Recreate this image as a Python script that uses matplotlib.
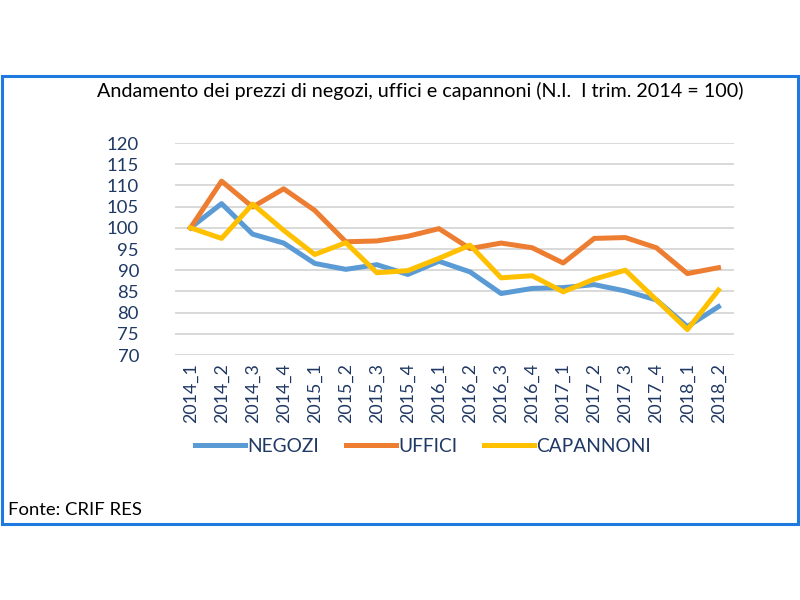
import matplotlib.pyplot as plt
from matplotlib.patches import Rectangle

periods = ["2014_1", "2014_2", "2014_3", "2014_4", "2015_1", "2015_2", "2015_3", "2015_4",
           "2016_1", "2016_2", "2016_3", "2016_4", "2017_1", "2017_2", "2017_3", "2017_4",
           "2018_1", "2018_2"]
negozi = [100, 105.7, 98.5, 96.4, 91.6, 90.2, 91.3, 89.0,
          92.1, 89.6, 84.5, 85.7, 85.9, 86.6, 85.1, 83.0, 76.7, 81.4]
uffici = [100, 111.0, 104.9, 109.2, 104.1, 96.7, 96.9, 98.0,
          99.8, 95.1, 96.4, 95.3, 91.7, 97.5, 97.7, 95.3, 89.2, 90.6]
capannoni = [100, 97.5, 105.6, 99.4, 93.7, 96.5, 89.4, 89.9,
             92.8, 95.9, 88.2, 88.7, 84.9, 87.9, 90.0, 83.0, 76.0, 85.3]
y_ticks = list(range(70, 121, 5))

plt.rcParams['font.family'] = ['Lato', 'DejaVu Sans']
navy = "#1F3864"

fig = plt.figure(figsize=(8, 6), dpi=100)
fig.patches.append(Rectangle((0.002, 1 - 524 / 600), 0.995, 448 / 600, transform=fig.transFigure,
                             fill=False, edgecolor="#1F7AE0", linewidth=2.2))

ax = fig.add_axes([175 / 800, 1 - 355 / 600, 559 / 800, 212 / 600])
x = range(len(periods))
ax.plot(x, negozi, color="#5B9BD5", lw=3.6, label="NEGOZI", solid_joinstyle="round")
ax.plot(x, uffici, color="#ED7D31", lw=3.6, label="UFFICI", solid_joinstyle="round")
ax.plot(x, capannoni, color="#FFC000", lw=3.6, label="CAPANNONI", solid_joinstyle="round")

ax.set_xlim(-0.5, len(periods) - 0.5)
ax.set_ylim(70, 120)
ax.set_yticks(y_ticks)
ax.set_xticks(list(x))
ax.set_xticklabels(periods, rotation=90)
ax.tick_params(length=0, labelcolor=navy)
ax.tick_params(axis="y", labelsize=13.3, pad=26)
ax.tick_params(axis="x", labelsize=12.8, pad=6)
ax.grid(axis="y", color="#D9D9D9", lw=1.4)
ax.set_axisbelow(True)
for s in ax.spines.values():
    s.set_visible(False)

fig.text(97 / 800, 1 - 91 / 600, "Andamento dei prezzi di negozi, uffici e capannoni (N.I.  I trim. 2014 = 100)",
         fontsize=14.2, color="black", va="center", ha="left")
fig.text(8 / 800, 1 - 510 / 600, "Fonte: CRIF RES", fontsize=13.3, color="black", va="center")

# legend: lines ~50px, text close to the line
fig.legend(loc="center", bbox_to_anchor=(423 / 800, 1 - 446 / 600), ncol=3, frameon=False,
           fontsize=13.8, labelcolor=navy, handlelength=2.6, handletextpad=0.12, columnspacing=1.4)

fig.savefig("out.png", dpi=100)
